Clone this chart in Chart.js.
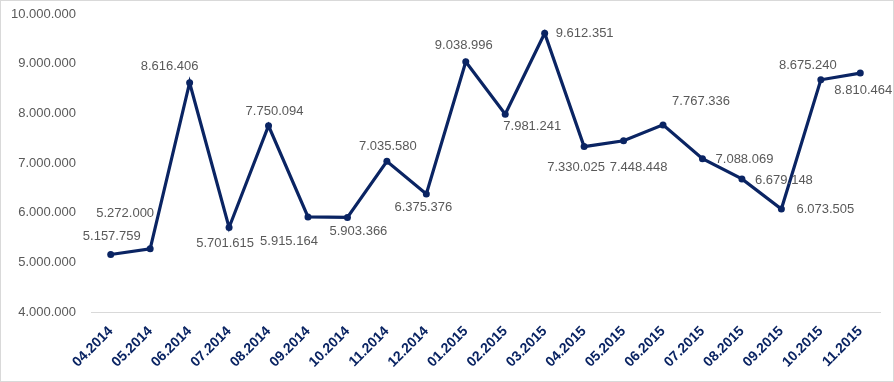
<!DOCTYPE html>
<html>
<head>
<meta charset="utf-8">
<script src="https://cdn.jsdelivr.net/npm/chart.js@4"></script>
<style>
  html, body { margin: 0; padding: 0; background: #fff; }
  .wrap {
    width: 894px;
    height: 382px;
    box-sizing: border-box;
    border: 1px solid #d9d9d9;
    position: relative;
  }
  canvas { display: block; }
</style>
</head>
<body>
<div class="wrap"><canvas id="chart" width="892" height="380"></canvas></div>
<script>
const months = [
  '04.2014', '05.2014', '06.2014', '07.2014', '08.2014', '09.2014', '10.2014',
  '11.2014', '12.2014', '01.2015', '02.2015', '03.2015', '04.2015', '05.2015',
  '06.2015', '07.2015', '08.2015', '09.2015', '10.2015', '11.2015'
];

const values = [
  5157759, 5272000, 8616406, 5701615, 7750094, 5915164, 5903366,
  7035580, 6375376, 9038996, 7981241, 9612351, 7330025, 7448448,
  7767336, 7088069, 6679148, 6073505, 8675240, 8810464
];

const yMin = 4000000;
const yMax = 10000000;
const yStep = 1000000;

// label placement relative to the point (px)
const labelDx = [1, -25, -20, -4, 6, -19, 11, 1, -3, -2, 27, 40, -8, 15, 38, 42, 42, 44, -13, 3];
const labelDy = [-18, -35, -16, 16, -14, 25, 14, -15, 13, -16, 12, 0, 21, 27, -23, 1, 1, 0, -14, 17];

const navy = '#0a2463';
const grey = '#595959';
const font = '"Liberation Sans", Arial, sans-serif';

function fmt(n) {
  return String(Math.round(n)).replace(/\B(?=(\d{3})+(?!\d))/g, '.');
}

// draws the value next to every point
const valueLabels = {
  id: 'valueLabels',
  afterDatasetsDraw(chart) {
    const ctx = chart.ctx;
    const meta = chart.getDatasetMeta(0);
    ctx.save();
    ctx.font = '13px ' + font;
    ctx.fillStyle = grey;
    ctx.textAlign = 'center';
    ctx.textBaseline = 'middle';
    meta.data.forEach((pt, i) => {
      ctx.fillText(fmt(values[i]), pt.x + labelDx[i], pt.y + labelDy[i]);
    });
    ctx.restore();
  }
};

new Chart(document.getElementById('chart'), {
  type: 'line',
  data: {
    labels: months,
    datasets: [{
      data: values,
      borderColor: navy,
      backgroundColor: navy,
      borderWidth: 3.2,
      pointRadius: 3.5,
      pointHoverRadius: 3.5,
      pointBackgroundColor: navy,
      pointBorderWidth: 0,
      tension: 0,
      fill: false
    }]
  },
  options: {
    responsive: false,
    animation: false,
    layout: { padding: { top: 13, right: 13, left: 0, bottom: 0 } },
    plugins: {
      legend: { display: false },
      tooltip: { enabled: false }
    },
    scales: {
      x: {
        offset: true,
        grid: { display: false, drawTicks: false },
        border: { display: true, color: '#d9d9d9', width: 1 },
        ticks: {
          color: navy,
          font: { family: font, size: 14, weight: 'bold' },
          maxRotation: 45,
          minRotation: 45,
          autoSkip: false,
          padding: 11
        },
        afterFit(scale) { scale.height = 69; }
      },
      y: {
        min: yMin,
        max: yMax,
        grid: { display: false, drawTicks: false },
        border: { display: false },
        ticks: {
          stepSize: yStep,
          color: grey,
          font: { family: font, size: 13 },
          padding: 15,
          callback: (v) => fmt(v)
        },
        afterFit(scale) {
          scale.width = 90;
          scale.paddingTop = 0;
          scale.paddingBottom = 0;
        }
      }
    }
  },
  plugins: [valueLabels]
});
</script>
</body>
</html>
